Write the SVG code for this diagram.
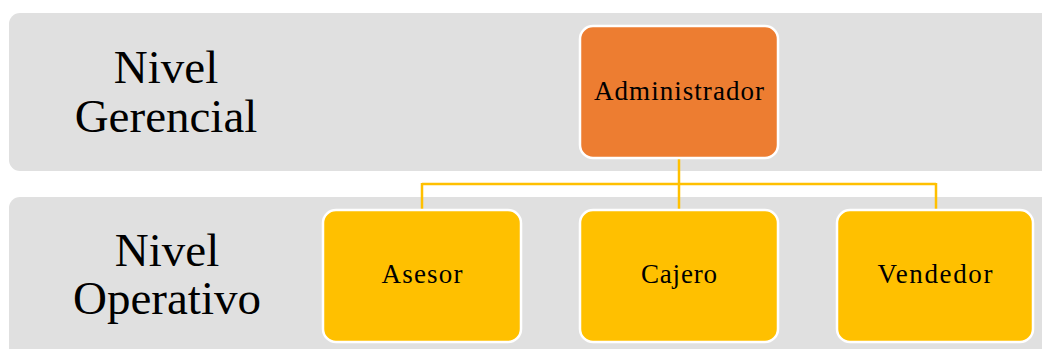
<svg xmlns="http://www.w3.org/2000/svg" width="1042" height="349" viewBox="0 0 1042 349">
<style>
.band{fill:#E0E0E0}
.lbl{font-size:47px;fill:#000;text-anchor:middle}
.box{stroke:#fff;stroke-width:2.5}
.adm{fill:#ED7D31}
.op{fill:#FFC000}
.t{font-size:27px;fill:#000;text-anchor:middle}
.conn{fill:none;stroke:#FFC000;stroke-width:2.5}
</style>
<rect width="1042" height="349" fill="#fff"/>
<g font-family="'Liberation Serif', serif">
<g id="band-gerencial">
<rect class="band" x="9" y="13" width="1045" height="158" rx="11"/>
<text class="lbl" x="166" y="83">Nivel</text>
<text class="lbl" x="166" y="132">Gerencial</text>
</g>
<g id="band-operativo">
<rect class="band" x="9" y="197" width="1045" height="170" rx="11"/>
<text class="lbl" x="167" y="266">Nivel</text>
<text class="lbl" x="167" y="314">Operativo</text>
</g>
<g id="connectors">
<path class="conn" d="M679 158 V184 M422 184 H936 M422 183 V210 M679 184 V210 M936 183 V210"/>
</g>
<g id="administrador">
<rect class="box adm" x="580" y="26" width="198" height="132" rx="13"/>
<text class="t" x="679" y="100" textLength="170" lengthAdjust="spacing">Administrador</text>
</g>
<g id="asesor">
<rect class="box op" x="323" y="210" width="198" height="132" rx="13"/>
<text class="t" x="422" y="283" textLength="81" lengthAdjust="spacing">Asesor</text>
</g>
<g id="cajero">
<rect class="box op" x="580" y="210" width="198" height="132" rx="13"/>
<text class="t" x="679" y="283" textLength="76" lengthAdjust="spacing">Cajero</text>
</g>
<g id="vendedor">
<rect class="box op" x="837" y="210" width="196" height="132" rx="13"/>
<text class="t" x="935" y="283" textLength="115" lengthAdjust="spacing">Vendedor</text>
</g>
</g>
</svg>
